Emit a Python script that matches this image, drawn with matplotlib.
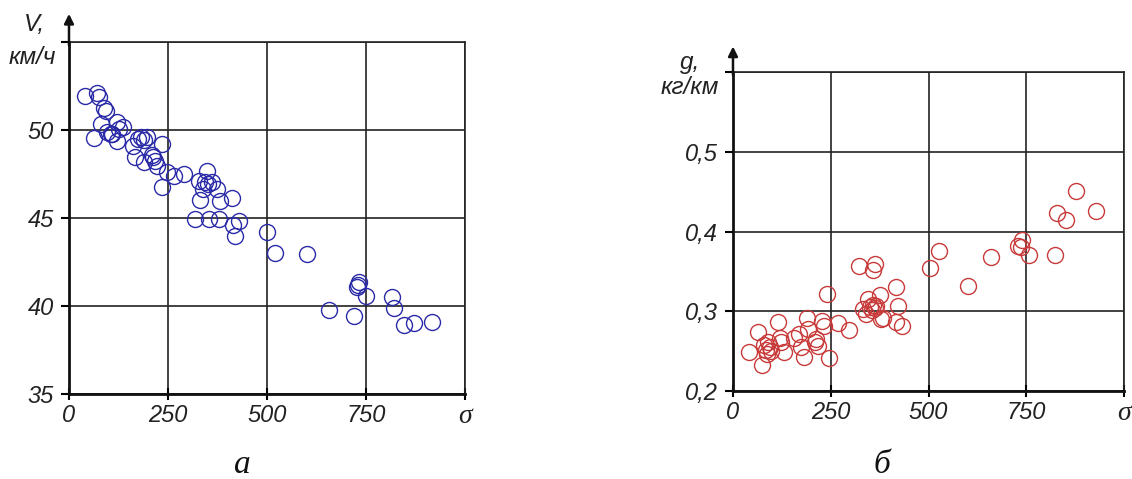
import matplotlib
matplotlib.use("Agg")
import matplotlib.pyplot as plt

# ---- data ----
v_sigma = [40, 70, 77, 88, 93, 81, 63, 95, 106, 120, 125, 137, 120, 109, 162, 167,
           183, 190, 196, 189, 213, 223, 234, 217, 247, 265, 236, 291, 329, 349,
           343, 352, 360, 339, 373, 331, 381, 411, 318, 354, 379, 430, 415, 419,
           499, 521, 600, 656, 720, 727, 733, 729, 749, 815, 821, 847, 870, 916,
           209, 173]
v_speed = [51.95, 52.08, 51.9, 51.25, 51.1, 50.34, 49.53, 49.87, 49.8, 50.44, 50.06,
           50.15, 49.4, 49.77, 49.1, 48.45, 49.58, 49.43, 49.58, 48.16, 48.45, 47.97,
           49.2, 48.26, 47.6, 47.4, 46.74, 47.5, 47.12, 47.69, 47.03, 46.93, 47.03,
           46.65, 46.65, 46.0, 45.95, 46.14, 44.94, 44.94, 44.94, 44.85, 44.6, 43.96,
           44.22, 43.0, 42.95, 39.77, 39.41, 41.06, 41.38, 41.21, 40.55, 40.49, 39.89,
           38.94, 39.02, 39.07, 48.6, 49.5]

g_sigma = [42, 63, 75, 80, 85, 90, 95, 98, 88, 116, 119, 124, 130, 156, 170, 175,
           182, 189, 191, 209, 217, 212, 228, 232, 240, 246, 268, 296, 321, 333,
           340, 345, 351, 356, 358, 362, 366, 362, 359, 377, 379, 384, 416, 421,
           418, 433, 503, 526, 602, 661, 728, 740, 737, 758, 823, 828, 851, 876, 928]
g_fuel = [0.249, 0.274, 0.233, 0.258, 0.252, 0.262, 0.255, 0.250, 0.247, 0.287, 0.267,
          0.261, 0.249, 0.267, 0.272, 0.255, 0.243, 0.292, 0.278, 0.261, 0.256, 0.265,
          0.288, 0.281, 0.322, 0.242, 0.285, 0.276, 0.357, 0.303, 0.297, 0.315, 0.305,
          0.301, 0.308, 0.304, 0.306, 0.359, 0.352, 0.320, 0.290, 0.292, 0.331, 0.307,
          0.286, 0.281, 0.354, 0.375, 0.332, 0.368, 0.382, 0.389, 0.380, 0.370, 0.371,
          0.423, 0.414, 0.451, 0.426]

x_ticks = [0, 250, 500, 750, 1000]
x_labels = ["0", "250", "500", "750", "σ"]
v_ticks = [35, 40, 45, 50, 55]
v_labels = ["35", "40", "45", "50", ""]
g_ticks = [0.2, 0.3, 0.4, 0.5, 0.6]
g_labels = ["0,2", "0,3", "0,4", "0,5", ""]

W, H = 1132, 479
fig = plt.figure(figsize=(W / 100, H / 100), dpi=100)

sans = "Liberation Sans"
serif = "Liberation Serif"
TICK_FS = 17
LAB_FS = 17.5


def setup(ax, xs, ys, color, yt, yl, ylim):
    ax.plot(xs, ys, linestyle="none", marker="o", markersize=11.5,
            markerfacecolor="none", markeredgecolor=color, markeredgewidth=1.0,
            zorder=3, clip_on=False)
    ax.set_xlim(0, 1000)
    ax.set_ylim(*ylim)
    ax.set_xticks(x_ticks)
    ax.set_xticklabels(x_labels)
    ax.set_yticks(yt)
    ax.set_yticklabels(yl)
    for lab in ax.get_xticklabels() + ax.get_yticklabels():
        lab.set_fontfamily(sans)
        lab.set_fontstyle("italic")
        lab.set_fontsize(TICK_FS)
        lab.set_color("#222222")
    sig = ax.get_xticklabels()[-1]
    sig.set_fontfamily(serif)
    sig.set_fontsize(20)
    ax.grid(True, color="#222222", linewidth=1.2)
    ax.set_axisbelow(True)
    for s in ["top", "right"]:
        ax.spines[s].set_linewidth(1.2)
        ax.spines[s].set_color("#222222")
    for s in ["left", "bottom"]:
        ax.spines[s].set_linewidth(2.0)
        ax.spines[s].set_color("#111111")
    ax.tick_params(axis="y", direction="out", length=6, width=1.5, pad=5)
    ax.tick_params(axis="x", direction="inout", length=8, width=1.5, pad=3)
    # arrow on y axis
    ax.annotate("", xy=(0, 1.08), xycoords="axes fraction",
                xytext=(0, 0.99), textcoords="axes fraction",
                arrowprops=dict(arrowstyle="-|>", color="#111111", lw=1.8,
                                mutation_scale=14, shrinkA=0, shrinkB=0),
                annotation_clip=False)


axL = fig.add_axes([69 / W, 1 - 394 / H, (465 - 69) / W, (394 - 42) / H])
setup(axL, v_sigma, v_speed, "#2a2aa8", v_ticks, v_labels, (35, 55))

axR = fig.add_axes([733 / W, 1 - 391 / H, (1124 - 733) / W, (391 - 72) / H])
setup(axR, g_sigma, g_fuel, "#c83a3a", g_ticks, g_labels, (0.2, 0.6))

# axis titles
fig.text(34 / W, 1 - 25 / H, "V,", fontfamily=sans, fontstyle="italic",
         fontsize=LAB_FS, ha="center", va="center", color="#222222")
fig.text(32 / W, 1 - 57 / H, "км/ч", fontfamily=sans, fontstyle="italic",
         fontsize=LAB_FS, ha="center", va="center", color="#222222")
fig.text(690 / W, 1 - 62 / H, "g,", fontfamily=sans, fontstyle="italic",
         fontsize=LAB_FS, ha="center", va="center", color="#222222")
fig.text(690 / W, 1 - 88 / H, "кг/км", fontfamily=sans, fontstyle="italic",
         fontsize=LAB_FS, ha="center", va="center", color="#222222")

# captions
fig.text(242 / W, 1 - 465 / H, "а", fontfamily=serif, fontstyle="italic",
         fontsize=24, ha="center", va="center", color="#111111")
fig.text(882 / W, 1 - 465 / H, "б", fontfamily=serif, fontstyle="italic",
         fontsize=24, ha="center", va="center", color="#111111")

fig.savefig("out.png", dpi=100, facecolor="white")
